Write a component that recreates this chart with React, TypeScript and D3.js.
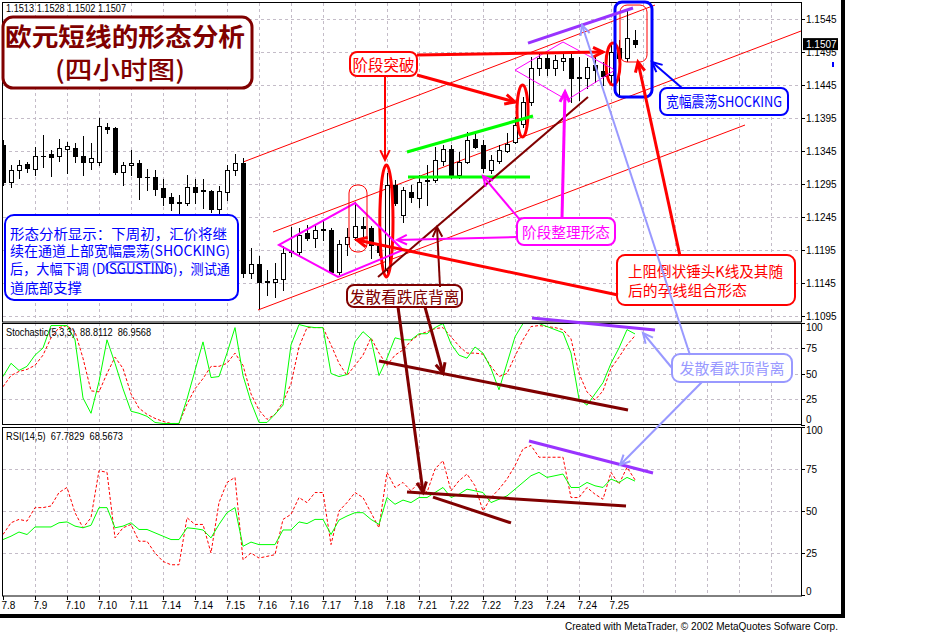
import React from "react";
import * as d3 from "d3";

// ---------- DATA ----------
const opens = [1.1354,1.1298,1.1316,1.1326,1.1318,1.1338,1.1341,1.1338,1.1348,1.1350,
1.1338,1.1329,1.1329,1.1382,1.1380,1.1313,1.1324,1.1327,1.1306,1.1306,
1.1289,1.1276,1.1266,1.1266,1.1291,1.1286,1.1285,1.1257,1.1283,1.1316,
1.1327,1.1160,1.1174,1.1147,1.1147,1.1151,1.1192,1.1192,1.1221,1.1213,
1.1226,1.1226,1.1162,1.1204,1.1215,1.1232,1.1229,1.1203,1.1165,1.1294,
1.1248,1.1283,1.1274,1.1300,1.1301,1.1330,1.1348,1.1309,1.1329,1.1363,
1.1354,1.1316,1.1330,1.1345,1.1359,1.1386,1.1419,1.1471,1.1486,1.1471,
1.1482,1.1486,1.1456,1.1456,1.1476,1.1466,1.1460,1.1501,1.1486,1.1513];
const highs = [1.1362,1.1324,1.1332,1.1329,1.1351,1.1369,1.1347,1.1363,1.1359,1.1357,
1.1368,1.1357,1.1395,1.1388,1.1382,1.1329,1.1347,1.1332,1.1318,1.1316,
1.1303,1.1282,1.1279,1.1309,1.1303,1.1303,1.1286,1.1292,1.1324,1.1341,
1.1335,1.1198,1.1186,1.1165,1.1176,1.1201,1.1230,1.1229,1.1233,1.1233,
1.1241,1.1229,1.1210,1.1229,1.1268,1.1245,1.1232,1.1215,1.1312,1.1301,
1.1291,1.1294,1.1309,1.1324,1.1351,1.1354,1.1354,1.1344,1.1374,1.1373,
1.1362,1.1339,1.1354,1.1373,1.1397,1.1427,1.1488,1.1495,1.1495,1.1491,
1.1494,1.1494,1.1488,1.1486,1.1488,1.1480,1.1506,1.1513,1.1559,1.1528];
const lows = [1.1294,1.1291,1.1304,1.1313,1.1309,1.1321,1.1307,1.1330,1.1312,1.1329,
1.1309,1.1318,1.1324,1.1373,1.1310,1.1294,1.1309,1.1273,1.1286,1.1279,
1.1263,1.1256,1.1241,1.1263,1.1266,1.1259,1.1253,1.1248,1.1271,1.1309,
1.1154,1.1153,1.1107,1.1127,1.1124,1.1135,1.1186,1.1188,1.1210,1.1200,
1.1210,1.1160,1.1159,1.1188,1.1210,1.1215,1.1183,1.1188,1.1162,1.1263,
1.1238,1.1268,1.1260,1.1263,1.1298,1.1324,1.1304,1.1304,1.1327,1.1350,
1.1313,1.1312,1.1327,1.1344,1.1357,1.1382,1.1415,1.1460,1.1460,1.1460,
1.1468,1.1419,1.1422,1.1441,1.1450,1.1445,1.1445,1.1430,1.1482,1.1502];
const closes = [1.1298,1.1316,1.1324,1.1319,1.1338,1.1337,1.1336,1.1350,1.1353,1.1338,
1.1329,1.1335,1.1383,1.1379,1.1313,1.1324,1.1327,1.1306,1.1305,1.1288,
1.1276,1.1266,1.1267,1.1291,1.1283,1.1285,1.1257,1.1285,1.1316,1.1327,
1.1160,1.1174,1.1147,1.1148,1.1151,1.1191,1.1194,1.1218,1.1213,1.1226,
1.1227,1.1162,1.1204,1.1215,1.1232,1.1229,1.1203,1.1192,1.1294,1.1266,
1.1286,1.1276,1.1298,1.1301,1.1332,1.1348,1.1309,1.1329,1.1362,1.1351,
1.1319,1.1332,1.1347,1.1356,1.1385,1.1419,1.1471,1.1486,1.1471,1.1483,
1.1486,1.1456,1.1457,1.1472,1.1468,1.1459,1.1495,1.1486,1.1516,1.1507];

const stochK = [47,60,53,57,68,75,97,97,97,83,
26,11,42,83,60,35,13,11,8,2,
1,1,1,25,53,81,46,47,70,95,
48,22,2,2,10,19,78,98,96,95,
95,50,47,49,81,91,84,48,65,85,
83,83,89,89,95,99,79,68,65,76,
70,55,34,60,86,99,99,99,96,93,
90,70,25,19,30,41,60,75,93,88.8];
const stochD = [37,48,52,54,58,68,85,95,97,91,
65,33,32,50,66,55,30,16,10,6,
3,1,1,20,35,45,57,57,60,70,
58,30,14,5,10,22,40,76,95,95,
95,78,60,48,58,68,85,70,58,68,
73,82,88,91,94,95,86,77,70,70,
69,57,47,50,67,83,96,97,96,95,
93,84,50,32,24,33,55,66,78,87];
const rsiMain = [33,35,37.5,36,40.5,40.5,40.5,43,43.5,41,
40,41.5,52,52,40,41,43,39,39,37,
35,33,33,40,39.5,38.7,34,42,49,52,
29,31.5,30,30,30,38.7,38.7,43.5,42.5,45,
45,36,44.6,47,49,49,45,42,58,54,
56.5,55,58,58,61,64,58,60,63,62,
61,55,57,59,63,67,71,73,70,71,
72,64,64,67,65,64,69,67,70,67.8];
const rsiSignal = [36,43,45,44,52,52,53,61,64,49,
40,46,74,73,34,40,42,32,32,25,
20,18,18,46,42,42,25,55,67,70,
21,25,22,23,24,45,48,58,55,61,
61,30,50,55,61,58,49,40,73,64,
67,62,67,61,75,80,62,68,72,65,
50,58,63,69,77,87,89,82,82,82,
82,58,58,64,60,57,73,66,76,68.6];

const dateLabels = ["7.8","7.9","7.10","7.10","7.11","7.14","7.14","7.15","7.16","7.16",
"7.17","7.18","7.18","7.21","7.22","7.22","7.23","7.24","7.24","7.25"];
const priceTicks = [1.1545,1.1495,1.1445,1.1395,1.1345,1.1295,1.1245,1.1195,1.1145,1.1095];
const oscTicks = [100,75,50,25,0];
const lastPrice = 1.1507;
const headerText = "1.1513 1.1528 1.1502 1.1507";
const stochLabel = "Stochastic(5,3,3)  88.8112  86.9568";
const rsiLabel = "RSI(14,5)  67.7829  68.5673";

// ---------- ANNOTATIONS (in bar index / value units) ----------
const RED = "#ff0000", MAROON = "#800000", BLUE = "#0000ff", MAG = "#ff00ff",
  LBLUE = "#9999ff", PURPLE = "#9933ff", GREEN = "#00ff00";

type Pt = [number, number, string?];

const plainLines: { pts: Pt[]; c: string; w: number }[] = [
  { pts: [[30, 1.13283], [81.5, 1.15662]], c: RED, w: 1 },
  { pts: [[33.75, 1.12223], [99.75, 1.15268]], c: RED, w: 1 },
  { pts: [[31.875, 1.11041], [92.75, 1.13844]], c: RED, w: 1 },
];
const overLines: { pts: Pt[]; c: string; w: number }[] = [
  { pts: [[50.5, 1.13435], [66.25, 1.1398]], c: GREEN, w: 3 },
  { pts: [[50.625, 1.13056], [65.875, 1.13056]], c: GREEN, w: 3 },
  { pts: [[46.875, 1.11541], [73.125, 1.14268]], c: MAROON, w: 2 },
  { pts: [[65.625, 1.15086], [78.75, 1.15617]], c: PURPLE, w: 3 },
  { pts: [[47, 62.3, "s"], [78.125, 14.2, "s"]], c: MAROON, w: 3 },
  { pts: [[66.125, 104.4, "s"], [81.5, 92.6, "s"]], c: PURPLE, w: 3 },
  { pts: [[50.5, 61.3, "r"], [77.875, 53, "r"]], c: MAROON, w: 3 },
  { pts: [[53.75, 58.3, "r"], [63.5, 42.9, "r"]], c: MAROON, w: 3 },
  { pts: [[65.75, 91.7, "r"], [81.25, 72.6, "r"]], c: PURPLE, w: 3 },
];
const diamonds: { pts: Pt[]; c: string; w: number }[] = [
  { pts: [[34.5, 1.12026], [44, 1.12662], [50, 1.1195], [41.875, 1.11541]], c: MAG, w: 2 },
  { pts: [[64, 1.14677], [70, 1.15102], [76.5, 1.14677], [70.5, 1.14223]], c: MAG, w: 1 },
];
const arrows: { pts: Pt[]; c: string; w: number }[] = [
  { pts: [[47.75, 1.14571], [47.75, 1.13314]], c: RED, w: 2 },
  { pts: [[51.75, 1.14602], [64, 1.14193]], c: RED, w: 3 },
  { pts: [[51.75, 1.14905], [75, 1.1495]], c: RED, w: 3 },
  { pts: [[84.875, 1.14405], [81.125, 1.14799]], c: BLUE, w: 2 },
  { pts: [[69.875, 1.12435], [70.25, 1.14344]], c: MAG, w: 3 },
  { pts: [[64.625, 1.12405], [60, 1.13071]], c: MAG, w: 2 },
  { pts: [[64.25, 1.12147], [49.25, 1.12102]], c: MAG, w: 2 },
  { pts: [[54.625, 1.11389], [54.25, 1.12298]], c: MAROON, w: 2 },
  { pts: [[84.625, 1.11859], [79.375, 1.14799]], c: RED, w: 3 },
  { pts: [[76.875, 1.11268], [44.25, 1.12102]], c: RED, w: 3 },
  { pts: [[85.875, 68.1, "s"], [72.375, 1.15359]], c: LBLUE, w: 2 },
  { pts: [[83.625, 55.4, "s"], [80, 89.7, "s"]], c: LBLUE, w: 2 },
  { pts: [[87.375, 41.7, "s"], [77.125, 77.4, "r"]], c: LBLUE, w: 2 },
  { pts: [[49.375, 1.11086], [52.5, 61.3, "r"]], c: MAROON, w: 3 },
  { pts: [[52.75, 1.11086], [55, 50.5, "s"]], c: MAROON, w: 3 },
];
const ellipses: { b: [number, number]; v: [number, number]; c: string; w: number }[] = [
  { b: [47.1, 48.75], v: [1.11541, 1.13238], c: RED, w: 3 },
  { b: [64.25, 65.63], v: [1.13662, 1.1445], c: RED, w: 3 },
  { b: [75.375, 77.125], v: [1.1445, 1.15086], c: RED, w: 3 },
];
const frames: { b: [number, number]; v: [number, number]; pan?: string; c: string; w: number; r: number; fill?: boolean }[] = [
  { b: [43.25, 45.5], v: [1.1192, 1.12935], c: RED, w: 1, r: 8 },
  { b: [77.125, 80.5], v: [1.14799, 1.15662], c: RED, w: 1, r: 7 },
  { b: [76.5, 81.125], v: [1.14268, 1.15708], c: BLUE, w: 3, r: 7 },
  { b: [0, 31.125], v: [1.14405, 1.1548], c: MAROON, w: 3, r: 10, fill: true },
  { b: [0.25, 29.375], v: [1.11193, 1.1248], c: BLUE, w: 2, r: 9, fill: true },
  { b: [43.375, 51.75], v: [1.14586, 1.1495], c: RED, w: 2, r: 7, fill: true },
  { b: [82.125, 98.125], v: [1.13995, 1.14405], c: BLUE, w: 2, r: 7, fill: true },
  { b: [64.25, 76.5], v: [1.12026, 1.12435], c: MAG, w: 2, r: 7, fill: true },
  { b: [43, 57.375], v: [1.11086, 1.1142], c: MAROON, w: 2, r: 7, fill: true },
  { b: [76.75, 99], v: [1.11117, 1.11874], c: RED, w: 2, r: 8, fill: true },
  { b: [83.625, 98.625], v: [41.7, 69.1], pan: "s", c: LBLUE, w: 2, r: 8, fill: true },
  { b: [12.875, 20.625], v: [1.11602, 1.11768], c: BLUE, w: 1, r: 5 },
];
const notes: { b: number; v: number; pan?: string; t: string; c: string; s: number; a: string; len?: number; wt?: number }[] = [
  { b: 15.25, v: 1.15208, t: "欧元短线的形态分析", c: MAROON, s: 24.5, a: "middle", len: 240, wt: 700 },
  { b: 14.625, v: 1.14708, t: "(四小时图)", c: MAROON, s: 24.5, a: "middle", len: 130, wt: 500 },
  { b: 0.875, v: 1.12208, t: "形态分析显示：下周初，汇价将继", c: BLUE, s: 14, a: "start", len: 217 },
  { b: 0.875, v: 1.1195, t: "续在通道上部宽幅震荡(SHOCKING)", c: BLUE, s: 14, a: "start", len: 220 },
  { b: 0.875, v: 1.11677, t: "后，大幅下调 (DISGUSTING)，测试通", c: BLUE, s: 14, a: "start", len: 220 },
  { b: 0.875, v: 1.11389, t: "道底部支撑", c: BLUE, s: 14, a: "start", len: 72 },
  { b: 47.56, v: 1.14768, t: "阶段突破", c: RED, s: 15.5, a: "middle", len: 62 },
  { b: 90.125, v: 1.14208, t: "宽幅震荡SHOCKING", c: BLUE, s: 15, a: "middle", len: 116 },
  { b: 70.375, v: 1.1223, t: "阶段整理形态", c: MAG, s: 15, a: "middle", len: 88 },
  { b: 50.19, v: 1.11253, t: "发散看跌底背离", c: MAROON, s: 16, a: "middle", len: 110 },
  { b: 78.125, v: 1.11632, t: "上阻倒状锤头K线及其随", c: RED, s: 15, a: "start", len: 155 },
  { b: 78.125, v: 1.11359, t: "后的孕线组合形态", c: RED, s: 15, a: "start", len: 119 },
  { b: 91.125, v: 55.4, pan: "s", t: "发散看跌顶背离", c: LBLUE, s: 15, a: "middle", len: 105 },
];

const FONT_CJK = "'Noto Sans CJK SC', 'Noto Sans', sans-serif";
const FONT_UI = "'Liberation Sans', Arial, sans-serif";

export default function App() {
  const x = d3.scaleLinear().domain([0, 99.75]).range([3, 801]);
  const yP = d3.scaleLinear().domain([1.10859, 1.15693]).range([322, 3]);
  const yS = d3.scaleLinear().domain([0, 100]).range([424.5, 322.5]);
  const yR = d3.scaleLinear().domain([0, 100]).range([595, 427]);
  const Y: Record<string, d3.ScaleLinear<number, number>> = { p: yP, s: yS, r: yR };
  const P = (pt: Pt): [number, number] => [x(pt[0]), Y[pt[2] || "p"](pt[1])];

  const gridX = d3.range(1, 25).map((j) => x(j * 4));
  const gridColor = "#c4bcc8";

  const lineS = (arr: number[]) =>
    d3.line<number>().x((_, i) => x(i)).y((d) => yS(d))(arr) || "";
  const lineR = (arr: number[]) =>
    d3.line<number>().x((_, i) => x(i)).y((d) => yR(d))(arr) || "";

  const head = (a: [number, number], b: [number, number], len = 11, ang = 0.45) => {
    const t = Math.atan2(b[1] - a[1], b[0] - a[0]);
    const p1 = [b[0] - len * Math.cos(t - ang), b[1] - len * Math.sin(t - ang)];
    const p2 = [b[0] - len * Math.cos(t + ang), b[1] - len * Math.sin(t + ang)];
    return `M${p1[0]},${p1[1]}L${b[0]},${b[1]}L${p2[0]},${p2[1]}`;
  };

  const hGrid = (ys: number[]) =>
    ys.map((yy, i) => (
      <line key={"h" + i} x1={3} x2={801} y1={Math.round(yy) + 0.5} y2={Math.round(yy) + 0.5}
        stroke={gridColor} strokeDasharray="3,3" />
    ));
  const vGrid = (y1: number, y2: number) =>
    gridX.map((gx, i) => (
      <line key={"v" + i} x1={gx + 0.5} x2={gx + 0.5} y1={y1} y2={y2} stroke={gridColor} strokeDasharray="3,3" />
    ));

  return (
    <div style={{ position: "absolute", left: 0, top: 0, width: 946, height: 634, background: "#fff" }}>
      <svg width={946} height={634} style={{ display: "block" }}>
        <defs>
          <clipPath id="mainClip"><rect x={3} y={3} width={798} height={319} /></clipPath>
          <clipPath id="oscClip"><rect x={3} y={323} width={798} height={273} /></clipPath>
        </defs>
        <rect x={0} y={0} width={946} height={634} fill="#fff" />

        {/* grids */}
        <g>
          {hGrid(priceTicks.map((p) => yP(p)))}
          {vGrid(3, 322)}
          {hGrid([75, 50, 25].map((v) => yS(v)))}
          {vGrid(323, 424)}
          {hGrid([75, 50, 25].map((v) => yR(v)))}
          {vGrid(428, 596)}
        </g>

        {/* channel lines */}
        <g clipPath="url(#mainClip)">
          {plainLines.map((l, i) => {
            const a = P(l.pts[0]), b = P(l.pts[1]);
            return <line key={i} x1={a[0]} y1={a[1]} x2={b[0]} y2={b[1]} stroke={l.c} strokeWidth={l.w} />;
          })}
        </g>

        {/* candles */}
        <g clipPath="url(#mainClip)">
          {opens.map((o, k) => {
            const c = closes[k];
            const cx = Math.round(x(k));
            const top = Math.round(yP(Math.max(o, c)));
            const bot = Math.round(yP(Math.min(o, c)));
            const hi = Math.round(yP(highs[k]));
            const lo = Math.round(yP(lows[k]));
            const bull = c >= o;
            return (
              <g key={k}>
                <line x1={cx + 0.5} x2={cx + 0.5} y1={hi} y2={lo + 1} stroke="#000" />
                {bot - top < 1 ? (
                  <line x1={cx - 2} x2={cx + 3} y1={top + 0.5} y2={top + 0.5} stroke="#000" />
                ) : (
                  <rect x={cx - 1.5} y={top + 0.5} width={4} height={bot - top} fill={bull ? "#fff" : "#000"} stroke="#000" />
                )}
              </g>
            );
          })}
        </g>

        {/* oscillators */}
        <g clipPath="url(#oscClip)">
          <path d={lineS(stochD)} fill="none" stroke={RED} strokeDasharray="3,2" />
          <path d={lineS(stochK)} fill="none" stroke={GREEN} />
          <path d={lineR(rsiSignal)} fill="none" stroke={RED} strokeDasharray="3,2" />
          <path d={lineR(rsiMain)} fill="none" stroke={GREEN} />
        </g>

        {/* panel frames */}
        <rect x={2.5} y={2.5} width={799} height={319.5} fill="none" stroke="#000" />
        <rect x={2.5} y={323.5} width={799} height={101} fill="none" stroke="#000" />
        <rect x={2.5} y={427.5} width={799} height={168.5} fill="none" stroke="#000" />

        {/* price axis */}
        <g fontFamily={FONT_UI} fontSize={10} fill="#000">
          {priceTicks.map((p, i) => (
            <g key={i}>
              <line x1={801} x2={805} y1={Math.round(yP(p)) + 0.5} y2={Math.round(yP(p)) + 0.5} stroke="#000" />
              <text x={806} y={yP(p) + 4}>{p.toFixed(4)}</text>
            </g>
          ))}
          {oscTicks.map((v, i) => (
            <g key={"s" + i}>
              <line x1={801} x2={805} y1={Math.round(yS(v)) + 0.5} y2={Math.round(yS(v)) + 0.5} stroke="#000" />
              <text x={806} y={v === 100 ? yS(v) + 8 : v === 0 ? yS(v) - 2 : yS(v) + 4}>{v}</text>
            </g>
          ))}
          {oscTicks.map((v, i) => (
            <g key={"r" + i}>
              <line x1={801} x2={805} y1={Math.round(yR(v)) + 0.5} y2={Math.round(yR(v)) + 0.5} stroke="#000" />
              <text x={806} y={v === 100 ? yR(v) + 7 : v === 0 ? yR(v) : yR(v) + 4}>{v}</text>
            </g>
          ))}
          <rect x={803} y={yP(lastPrice) - 6} width={35} height={12} fill="#000" />
          <text x={806} y={yP(lastPrice) + 4} fill="#fff">{lastPrice.toFixed(4)}</text>
          <rect x={832} y={62} width={2} height={5} fill={BLUE} />
        </g>

        {/* date axis */}
        <g fontFamily={FONT_UI} fontSize={10} fill="#000">
          {dateLabels.map((d, j) => (
            <g key={j}>
              <line x1={x(j * 4) + 0.5} x2={x(j * 4) + 0.5} y1={596} y2={600} stroke="#000" />
              <text x={x(j * 4) - 1.5} y={609}>{d}</text>
            </g>
          ))}
        </g>

        {/* panel labels */}
        <g fontFamily={FONT_UI} fontSize={10.5} fill="#000">
          <text x={6} y={12} textLength={120} lengthAdjust="spacingAndGlyphs">{headerText}</text>
          <text x={6} y={336} textLength={145} lengthAdjust="spacingAndGlyphs" xmlSpace="preserve">{stochLabel}</text>
          <text x={6} y={440} textLength={117} lengthAdjust="spacingAndGlyphs" xmlSpace="preserve">{rsiLabel}</text>
        </g>

        {/* ellipses around candles */}
        {ellipses.map((e, i) => {
          const x0 = x(e.b[0]), x1 = x(e.b[1]);
          const y0 = yP(e.v[1]), y1 = yP(e.v[0]);
          return (
            <ellipse key={i} cx={(x0 + x1) / 2} cy={(y0 + y1) / 2} rx={(x1 - x0) / 2} ry={(y1 - y0) / 2}
              fill="none" stroke={e.c} strokeWidth={e.w} />
          );
        })}

        {/* diamonds */}
        {diamonds.map((d, i) => (
          <polygon key={i} points={d.pts.map((p) => P(p).join(",")).join(" ")} fill="none" stroke={d.c} strokeWidth={d.w} />
        ))}

        {/* boxes */}
        {frames.map((f, i) => {
          const sc = Y[f.pan || "p"];
          const x0 = x(f.b[0]), x1 = x(f.b[1]);
          const y0 = sc(f.v[1]), y1 = sc(f.v[0]);
          return (
            <rect key={i} x={x0} y={y0} width={x1 - x0} height={y1 - y0} rx={f.r} ry={f.r}
              fill={f.fill ? "#fff" : "none"} stroke={f.c} strokeWidth={f.w} />
          );
        })}

        {/* texts */}
        {notes.map((n, i) => {
          const p = P([n.b, n.v, n.pan]);
          return (
            <text key={i} x={p[0]} y={p[1]} fill={n.c} fontSize={n.s} fontFamily={FONT_CJK}
              fontWeight={n.wt || 400} textAnchor={n.a} dominantBaseline="central"
              textLength={n.len} lengthAdjust="spacingAndGlyphs">{n.t}</text>
          );
        })}

        {/* lines over */}
        {overLines.map((l, i) => {
          const a = P(l.pts[0]), b = P(l.pts[1]);
          return <line key={i} x1={a[0]} y1={a[1]} x2={b[0]} y2={b[1]} stroke={l.c} strokeWidth={l.w} />;
        })}
        {arrows.map((l, i) => {
          const a = P(l.pts[0]), b = P(l.pts[1]);
          return (
            <g key={i} stroke={l.c} strokeWidth={l.w} fill="none">
              <line x1={a[0]} y1={a[1]} x2={b[0]} y2={b[1]} />
              <path d={head(a, b)} />
            </g>
          );
        })}

        {/* outer black frame */}
        <rect x={841} y={0} width={4} height={618} fill="#000" />
        <rect x={0} y={614} width={845} height={4} fill="#000" />
        <text x={565} y={630} fontFamily={FONT_UI} fontSize={10.5} fill="#000" textLength={273} lengthAdjust="spacingAndGlyphs">
          Created with MetaTrader, © 2002 MetaQuotes Sofware Corp.
        </text>
      </svg>
    </div>
  );
}
